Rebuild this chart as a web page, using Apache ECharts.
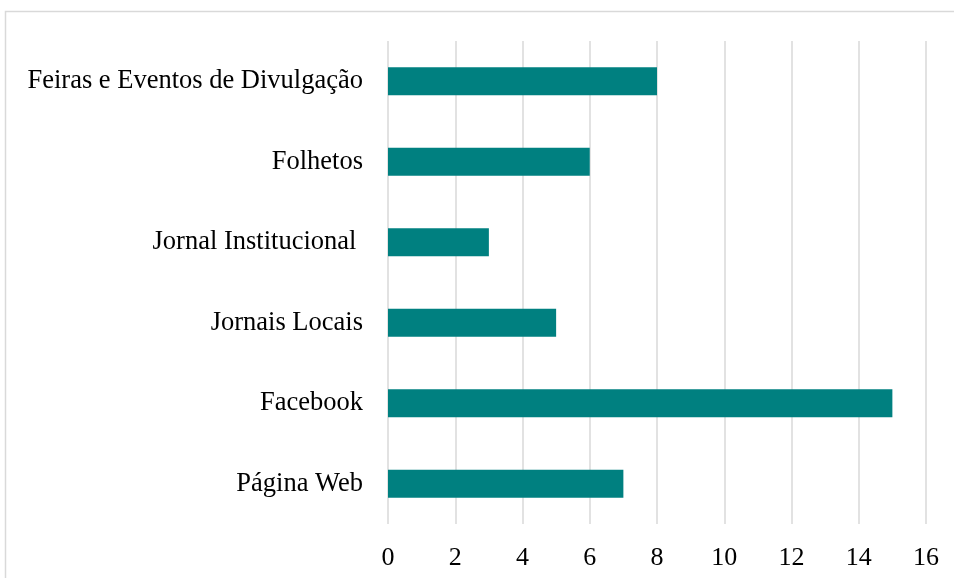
<!DOCTYPE html>
<html>
<head>
<meta charset="utf-8">
<script src="https://cdn.jsdelivr.net/npm/echarts@6/dist/echarts.min.js"></script>
<style>html,body{margin:0;padding:0;background:#fff}#c{width:954px;height:578px}</style>
</head>
<body>
<div id="c"></div>
<script>
var categories = ["Feiras e Eventos de Divulgação", "Folhetos", "Jornal Institucional ", "Jornais Locais", "Facebook", "Página Web"];
var values = [8, 6, 3, 5, 15, 7];
var xTicks = [0, 2, 4, 6, 8, 10, 12, 14, 16];

var chart = echarts.init(document.getElementById('c'));
var font = '"Liberation Serif", "Times New Roman", serif';
chart.setOption({
  animation: false,
  graphic: [{
    type: 'rect',
    shape: {x: 5.5, y: 11.5, width: 2000, height: 2000},
    style: {fill: 'none', stroke: '#d9d9d9', lineWidth: 1.5},
    silent: true
  }],
  grid: {left: 388, right: 28, top: 41, bottom: 54, containLabel: false},
  xAxis: {
    type: 'value', min: xTicks[0], max: xTicks[xTicks.length - 1], interval: 2,
    axisLine: {show: false}, axisTick: {show: false},
    splitLine: {show: true, lineStyle: {color: '#d9d9d9', width: 1.5}},
    axisLabel: {fontFamily: font, fontSize: 26, color: '#000', margin: 21}
  },
  yAxis: {
    type: 'category', data: categories, inverse: true,
    axisLine: {show: false}, axisTick: {show: false},
    axisLabel: {fontFamily: font, fontSize: 26.5, color: '#000', margin: 25, padding: [4, 0, 0, 0]}
  },
  series: [{
    type: 'bar', data: values, barWidth: 28,
    itemStyle: {color: '#008080'}
  }]
});
</script>
</body>
</html>
